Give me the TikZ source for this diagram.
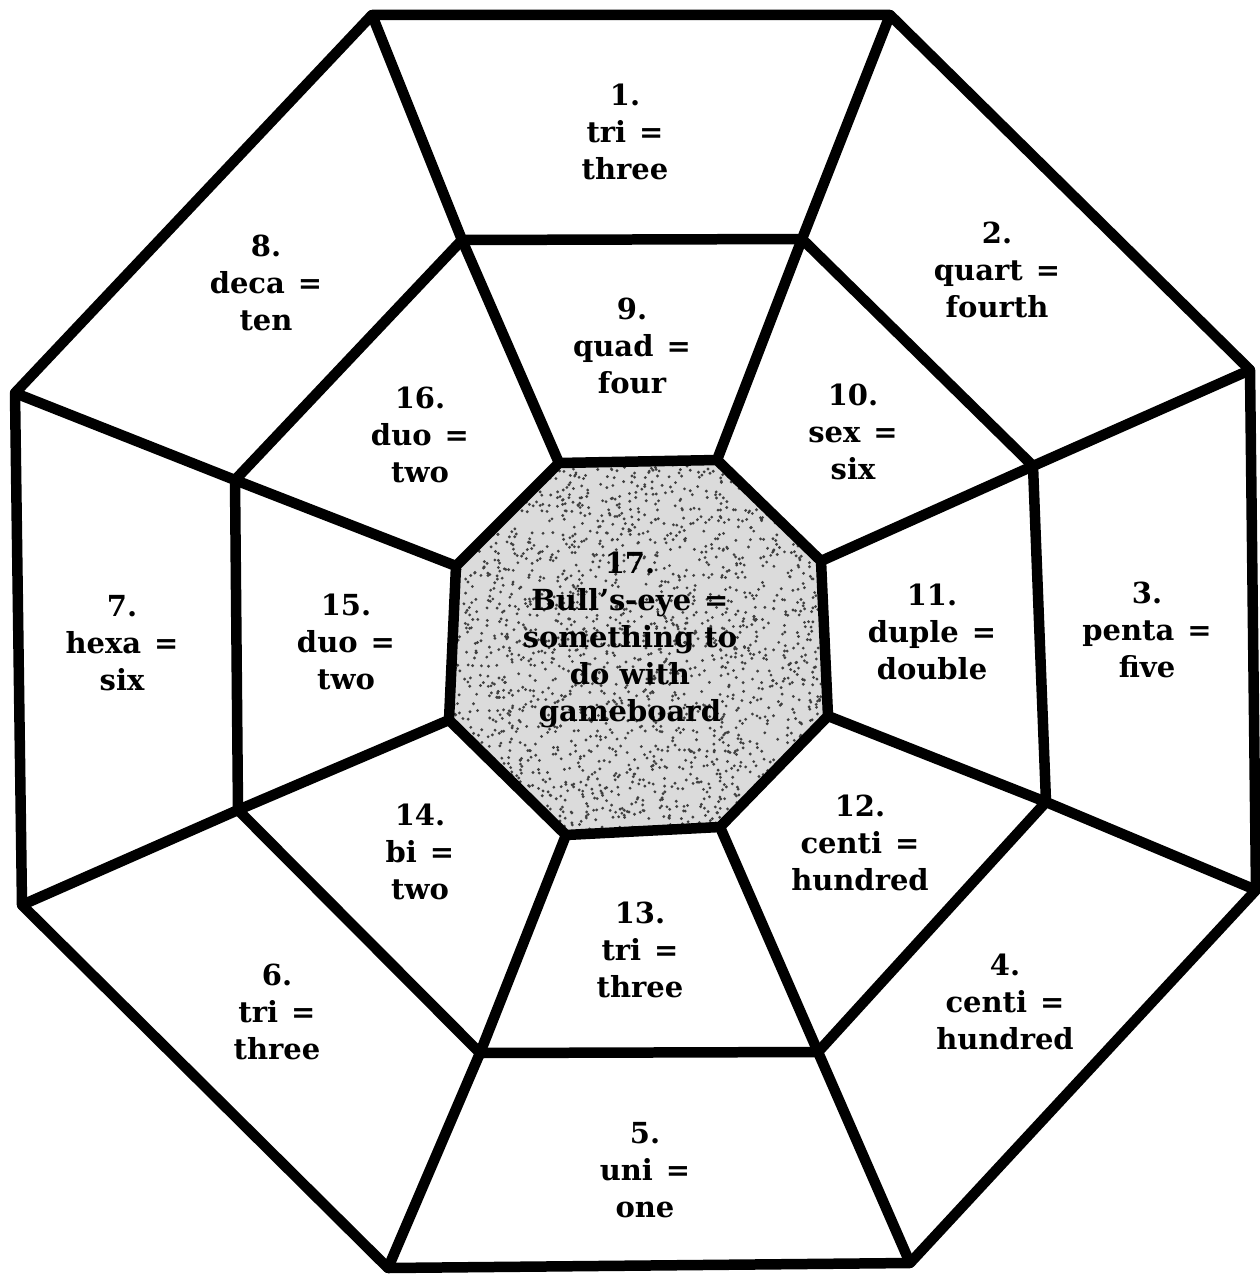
\documentclass[tikz,border=0pt]{standalone}
\usepackage{fontspec}
\setmainfont{DejaVu Serif}
\newcommand\myeq{\hspace{0.45em}=}
\begin{document}
\begin{tikzpicture}[x=0.02cm,y=-0.02cm,
  edge/.style={line width=0.21cm, line join=round, line cap=round},
  lab/.style={font=\bfseries\fontsize{16.5}{21}\selectfont, align=center, inner sep=0pt}]
\useasboundingbox (0,0) rectangle (1260,1277);
% outer octagon
\coordinate (O1) at (372,15);
\coordinate (O2) at (890,15);
\coordinate (O3) at (1250,370);
\coordinate (O4) at (1256,890);
\coordinate (O5) at (910,1263);
\coordinate (O6) at (388,1268);
\coordinate (O7) at (22,905);
\coordinate (O8) at (15,393);
% middle octagon
\coordinate (M1) at (462,240);
\coordinate (M2) at (802,239);
\coordinate (M3) at (1033,466);
\coordinate (M4) at (1046,802);
\coordinate (M5) at (818,1052);
\coordinate (M6) at (480,1053);
\coordinate (M7) at (238,810);
\coordinate (M8) at (235,480);
% inner octagon
\coordinate (I1) at (559,463);
\coordinate (I2) at (717,460);
\coordinate (I3) at (821,561);
\coordinate (I4) at (828,716);
\coordinate (I5) at (720,827);
\coordinate (I6) at (566,835);
\coordinate (I7) at (449,720);
\coordinate (I8) at (456,566);
% speckled centre
\begin{scope}
  \clip (I1)--(I2)--(I3)--(I4)--(I5)--(I6)--(I7)--(I8)--cycle;
  \fill[gray!28] (440,450) rectangle (840,845);
  \pgfmathsetseed{7}
  \foreach \k in {1,...,2400}{
    \fill[black!75] ({445+390*rnd},{455+385*rnd}) circle (0.9pt);
  }
\end{scope}
% octagons
\draw[edge] (O1)--(O2)--(O3)--(O4)--(O5)--(O6)--(O7)--(O8)--cycle;
\draw[edge] (M1)--(M2)--(M3)--(M4)--(M5)--(M6)--(M7)--(M8)--cycle;
\draw[edge] (I1)--(I2)--(I3)--(I4)--(I5)--(I6)--(I7)--(I8)--cycle;
% radial spokes
\foreach \k in {1,...,8}{
  \draw[edge] (O\k)--(M\k);
  \draw[edge] (M\k)--(I\k);
}
% labels
\node[lab] (l1)  at (625,132)  {1.\\tri\myeq\\three};
\node[lab] (l2)  at (997,270)  {2.\\quart\myeq\\fourth};
\node[lab] (l3)  at (1147,630) {3.\\penta\myeq\\five};
\node[lab] (l4)  at (1005,1002) {4.\\centi\myeq\\hundred};
\node[lab] (l5)  at (645,1170) {5.\\uni\myeq\\one};
\node[lab] (l6)  at (277,1012) {6.\\tri\myeq\\three};
\node[lab] (l7)  at (122,643)  {7.\\hexa\myeq\\six};
\node[lab] (l8)  at (266,283)  {8.\\deca\myeq\\ten};
\node[lab] (l9)  at (632,346)  {9.\\quad\myeq\\four};
\node[lab] (l10) at (853,432)  {10.\\sex\myeq\\six};
\node[lab] (l11) at (932,632)  {11.\\duple\myeq\\double};
\node[lab] (l12) at (860,843)  {12.\\centi\myeq\\hundred};
\node[lab] (l13) at (640,950)  {13.\\tri\myeq\\three};
\node[lab] (l14) at (420,852)  {14.\\bi\myeq\\two};
\node[lab] (l15) at (346,642)  {15.\\duo\myeq\\two};
\node[lab] (l16) at (420,435)  {16.\\duo\myeq\\two};
\node[lab] (l17) at (630,640)  {17.\\Bull's-eye\myeq\\something to\\do with\\gameboard};
\end{tikzpicture}
\end{document}
